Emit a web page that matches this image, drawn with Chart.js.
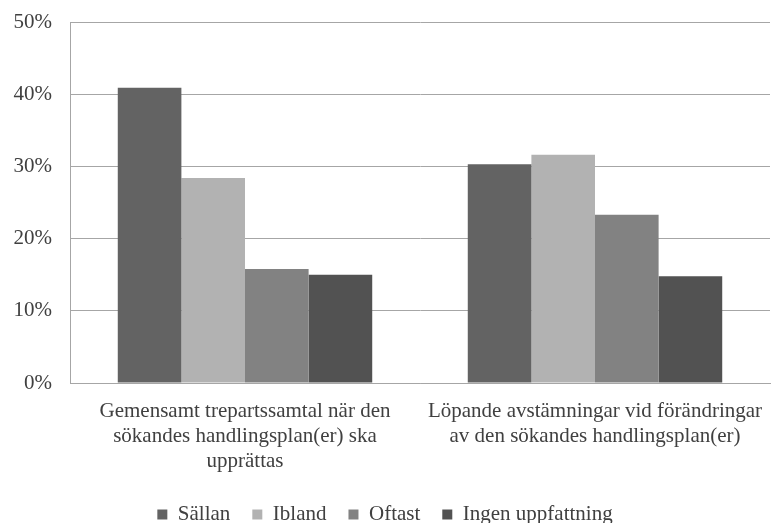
<!DOCTYPE html>
<html>
<head>
<meta charset="utf-8">
<script src="https://cdn.jsdelivr.net/npm/chart.js@4"></script>
<style>
  html, body { margin: 0; padding: 0; background: #fff; }
  #wrap { width: 773px; height: 523px; }
</style>
</head>
<body>
<div id="wrap"><canvas id="chart" width="773" height="523"></canvas></div>
<script>
// categories (x axis), each an array of label lines
const categories = [
  ["Gemensamt trepartssamtal när den", "sökandes handlingsplan(er) ska", "upprättas"],
  ["Löpande avstämningar vid förändringar", "av den sökandes handlingsplan(er)"]
];

// series values, percent
const sallan = [40.9, 30.3];
const ibland = [28.4, 31.6];
const oftast = [15.8, 23.3];
const ingen = [15.0, 14.8];

const seriesNames = ["Sällan", "Ibland", "Oftast", "Ingen uppfattning"];
const seriesColors = ["#636363", "#b2b2b2", "#828282", "#525252"];

const font = "'Liberation Serif', 'DejaVu Serif', serif";

const datasets = [sallan, ibland, oftast, ingen].map((data, i) => ({
  label: seriesNames[i],
  data: data,
  backgroundColor: seriesColors[i],
  borderWidth: 0,
  categoryPercentage: 0.727,
  barPercentage: 1.0
}));

new Chart(document.getElementById("chart"), {
  type: "bar",
  data: { labels: categories, datasets: datasets },
  options: {
    responsive: false,
    animation: false,
    devicePixelRatio: 1,
    layout: { padding: { top: 22, right: 3, left: 0, bottom: -12 } },
    plugins: {
      legend: {
        position: "bottom",
        labels: {
          boxWidth: 10,
          boxHeight: 10,
          padding: 22,
          color: "#404040",
          font: { family: font, size: 21 }
        }
      },
      tooltip: { enabled: false }
    },
    scales: {
      x: {
        grid: { display: false, drawTicks: false },
        border: { color: "#a6a6a6", width: 1 },
        ticks: {
          color: "#404040",
          padding: 16,
          maxRotation: 0,
          autoSkip: false,
          font: { family: font, size: 21, lineHeight: 1.19 }
        },
        afterFit: axis => {
          axis.height = 99;
          axis.paddingLeft = 0;
          axis.paddingRight = 0;
        }
      },
      y: {
        min: 0,
        max: 50,
        grid: { color: "#a6a6a6", drawTicks: false },
        border: { color: "#a6a6a6", width: 1 },
        ticks: {
          stepSize: 10,
          color: "#404040",
          padding: 18,
          font: { family: font, size: 21 },
          callback: v => v + "%"
        },
        afterFit: axis => {
          axis.width = 70;
          axis.paddingTop = 0;
          axis.paddingBottom = 0;
        }
      }
    }
  }
});
</script>
</body>
</html>
